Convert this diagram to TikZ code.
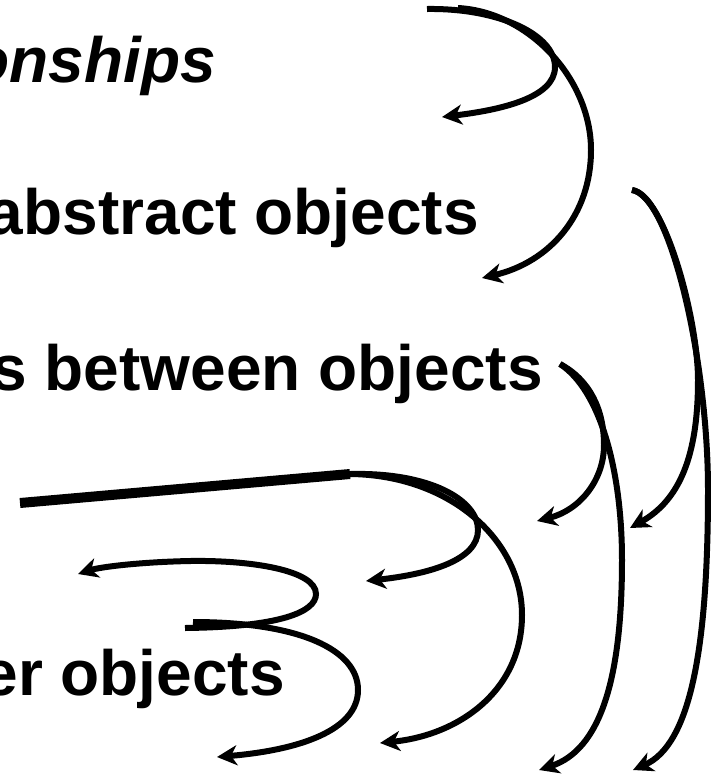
\documentclass[tikz,border=0pt]{standalone}
\usepackage{fontspec}
\setmainfont{Liberation Sans}
\usetikzlibrary{arrows.meta}
\begin{document}
\begin{tikzpicture}[x=1pt,y=-1pt,
  curve/.style={line width=6pt,-{Stealth[length=20pt,width=20pt,inset=6pt]}},
  lbl/.style={anchor=base east,inner sep=0pt,font=\fontsize{64}{72}\selectfont\bfseries}]
\path[use as bounding box] (0,0) rectangle (711,780);
\clip (0,0) rectangle (711,780);
% texts
\node[lbl] (t1) at (216,82) {\itshape onships};
\node[lbl] (t2) at (479,234) {abstract objects};
\node[lbl] (t3) at (543,390) {s between objects};
\node[lbl] (t4) at (285,695) {er objects};
% coordinates
\coordinate (a1s) at (427,9);
\coordinate (a1e) at (442,117);
\coordinate (a2s) at (458,8);
\coordinate (a2e) at (482,278);
\coordinate (bs) at (632,190);
\coordinate (b1e) at (630,528);
\coordinate (b2e) at (633,770);
\coordinate (cs) at (560,364);
\coordinate (c1e) at (537,521);
\coordinate (c2e) at (539,770);
\coordinate (dl) at (20,503);
\coordinate (ds) at (350,474);
\coordinate (d1e) at (366,581);
\coordinate (d2e) at (380,743);
\coordinate (e1s) at (185,628);
\coordinate (e1e) at (78,574);
\coordinate (e2s) at (193,622);
\coordinate (e2e) at (217,757);
% A
\draw[curve] (a1s) .. controls (500,8) and (555,35) .. (555,67)
  .. controls (555,98) and (500,110) .. (a1e);
\draw[curve] (a2s) .. controls (530,12) and (591,80) .. (591,150)
  .. controls (591,215) and (550,262) .. (a2e);
% B
\draw[curve] (bs) .. controls (665,195) and (698,320) .. (698,380)
  .. controls (698,455) and (680,500) .. (b1e);
\draw[curve] (bs) .. controls (670,195) and (708,360) .. (708,490)
  .. controls (708,650) and (690,745) .. (b2e);
% C
\draw[curve] (cs) .. controls (590,380) and (604,410) .. (604,445)
  .. controls (604,480) and (580,510) .. (c1e);
\draw[curve] (cs) .. controls (600,390) and (622,470) .. (622,560)
  .. controls (622,680) and (600,750) .. (c2e);
% D
\draw[line width=10pt] (dl) -- (ds);
\draw[curve] (ds) .. controls (430,472) and (478,500) .. (478,530)
  .. controls (478,560) and (430,574) .. (d1e);
\draw[curve] (ds) .. controls (450,475) and (522,540) .. (522,615)
  .. controls (522,690) and (460,735) .. (d2e);
% E
\draw[curve] (e1s) .. controls (280,627) and (316,612) .. (316,594)
  .. controls (316,570) and (250,560) .. (190,561)
  .. controls (140,562) and (100,567) .. (e1e);
\draw[curve] (e2s) .. controls (300,622) and (358,650) .. (358,690)
  .. controls (358,730) and (300,750) .. (e2e);
\end{tikzpicture}
\end{document}
